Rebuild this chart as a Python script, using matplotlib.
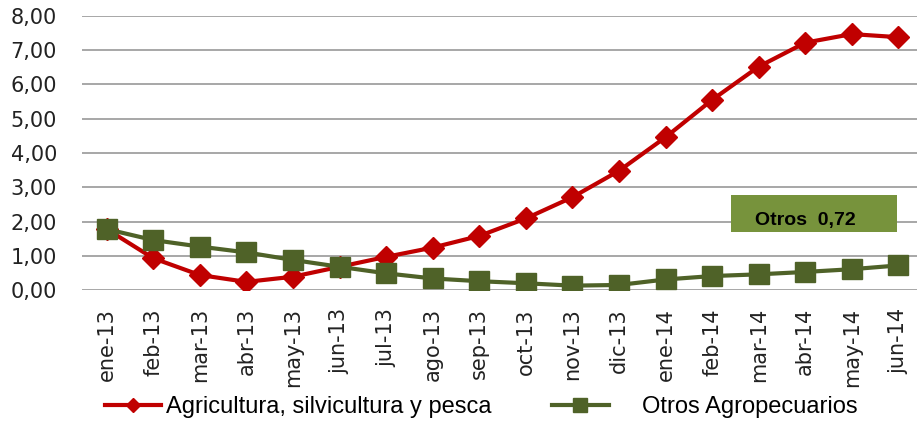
import matplotlib
matplotlib.use("Agg")
import matplotlib.pyplot as plt
from matplotlib.patches import Rectangle
from matplotlib.ticker import FuncFormatter
import numpy as np

months = ["ene-13", "feb-13", "mar-13", "abr-13", "may-13", "jun-13",
          "jul-13", "ago-13", "sep-13", "oct-13", "nov-13", "dic-13",
          "ene-14", "feb-14", "mar-14", "abr-14", "may-14", "jun-14"]
agricultura = [1.78, 0.93, 0.44, 0.24, 0.39, 0.68, 0.97, 1.24, 1.58,
               2.09, 2.71, 3.48, 4.46, 5.55, 6.52, 7.22, 7.47, 7.38]
otros = [1.78, 1.46, 1.27, 1.10, 0.88, 0.68, 0.49, 0.34, 0.26,
         0.20, 0.13, 0.15, 0.31, 0.41, 0.46, 0.53, 0.61, 0.72]
label_agri = "Agricultura, silvicultura y pesca"
label_otros = "Otros Agropecuarios"
note_text = "Otros  0,72"

RED = "#C00000"
GREEN = "#4F6228"

plt.rcParams["font.family"] = "DejaVu Sans"

fig = plt.figure(figsize=(9.17, 4.26), dpi=100)
ax = fig.add_axes([0.0894, 0.319, 0.9106, 0.6436])

x = np.arange(len(months))
ax.plot(x, agricultura, color=RED, lw=3, marker="D", ms=11,
        label=label_agri, zorder=3)
ax.plot(x, otros, color=GREEN, lw=3, marker="s", ms=15,
        label=label_otros, zorder=4)

ax.set_ylim(0, 8)
ax.set_yticks(np.arange(0, 9, 1))
ax.yaxis.set_major_formatter(FuncFormatter(lambda v, _: f"{v:.2f}".replace(".", ",")))
ax.set_xlim(-0.53, 17.4)
ax.set_xticks(x)
ax.set_xticklabels(months, rotation=90)
ax.tick_params(length=0, labelsize=15, colors="#222222")
ax.tick_params(axis="x", pad=13)
ax.tick_params(axis="y", pad=18)
ax.grid(axis="y", color="#a0a0a0", lw=1.3)
ax.set_axisbelow(True)
for s in ax.spines.values():
    s.set_visible(False)

# callout box for the last value
ax.add_patch(Rectangle((13.4, 1.69), 3.57, 1.08, facecolor="#77933C",
                       edgecolor="none", zorder=2))
ax.text(15.0, 2.04, note_text, ha="center", va="center", fontsize=14,
        family="Liberation Sans", fontweight="bold", zorder=5)

h, l = ax.get_legend_handles_labels()
leg_kw = dict(frameon=False, prop={"family": "Liberation Sans", "size": 17},
              handlelength=2.4, borderaxespad=0, borderpad=0, markerscale=0.65)
fig.legend([h[0]], [l[0]], loc="center left", bbox_to_anchor=(0.114, 0.045),
           handletextpad=0.2, **leg_kw)
fig.legend([h[1]], [l[1]], loc="center left", bbox_to_anchor=(0.602, 0.045),
           handletextpad=1.4, **leg_kw)

fig.savefig("out.png", dpi=100)
